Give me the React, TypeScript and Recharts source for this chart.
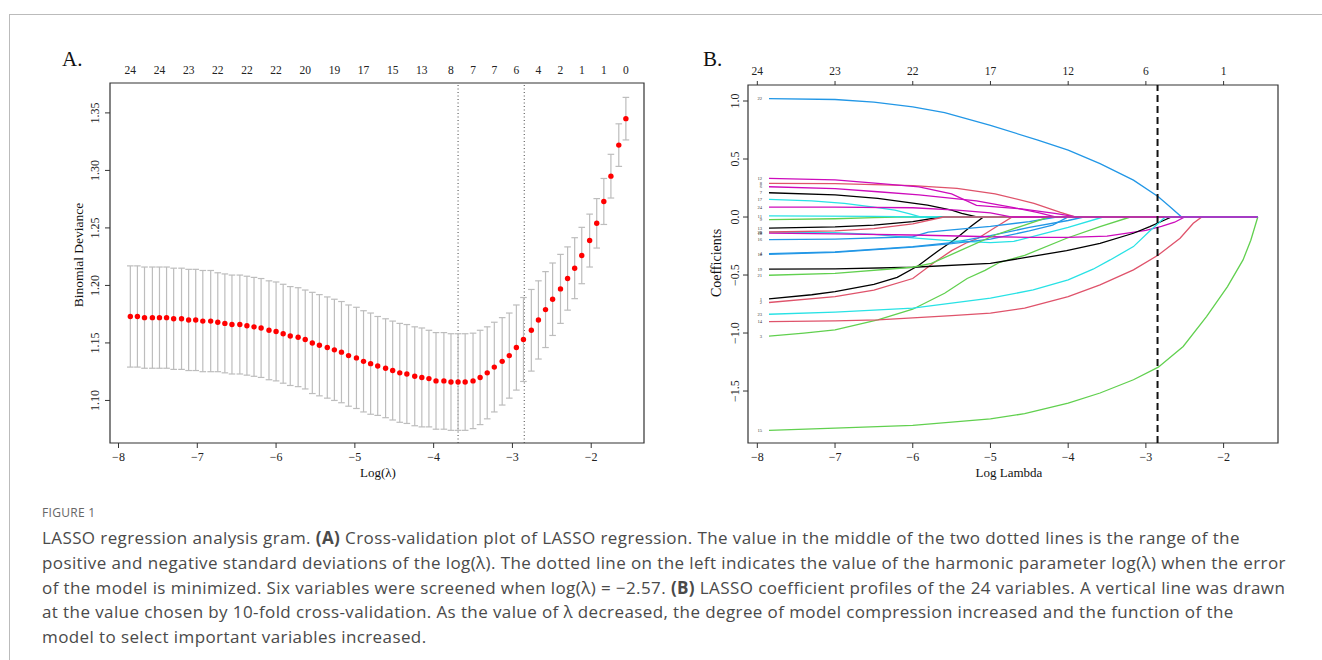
import React from 'react';
import {
  ComposedChart, Scatter, Line, XAxis, YAxis, ReferenceLine, ReferenceArea, ErrorBar,
} from 'recharts';

// ---- Panel A: cross-validation curve ----
const logLambda = [
  -7.85, -7.76, -7.67, -7.57, -7.48, -7.39, -7.30, -7.20, -7.11, -7.02,
  -6.93, -6.83, -6.74, -6.65, -6.56, -6.46, -6.37, -6.28, -6.19, -6.09,
  -6.00, -5.91, -5.82, -5.72, -5.63, -5.54, -5.45, -5.35, -5.26, -5.17,
  -5.08, -4.98, -4.89, -4.80, -4.71, -4.61, -4.52, -4.43, -4.34, -4.24,
  -4.15, -4.06, -3.97, -3.87, -3.78, -3.69, -3.60, -3.50, -3.41, -3.32,
  -3.23, -3.13, -3.04, -2.95, -2.86, -2.76, -2.67, -2.58, -2.49, -2.39,
  -2.30, -2.21, -2.12, -2.02, -1.93, -1.84, -1.75, -1.65, -1.56,
];
const cvMean = [
  1.173, 1.173, 1.172, 1.172, 1.172, 1.172, 1.171, 1.171, 1.170, 1.170,
  1.169, 1.169, 1.168, 1.167, 1.166, 1.166, 1.165, 1.164, 1.163, 1.161,
  1.160, 1.158, 1.156, 1.155, 1.153, 1.150, 1.148, 1.146, 1.144, 1.142,
  1.139, 1.137, 1.134, 1.132, 1.130, 1.128, 1.126, 1.124, 1.123, 1.121,
  1.120, 1.119, 1.117, 1.117, 1.116, 1.116, 1.116, 1.117, 1.120, 1.124,
  1.129, 1.134, 1.139, 1.146, 1.153, 1.161, 1.170, 1.179, 1.188, 1.197,
  1.206, 1.215, 1.226, 1.239, 1.254, 1.273, 1.295, 1.322, 1.345,
];
const cvSE = [
  0.044, 0.044, 0.044, 0.044, 0.044, 0.044, 0.044, 0.044, 0.044, 0.044,
  0.044, 0.044, 0.043, 0.043, 0.043, 0.043, 0.043, 0.043, 0.043, 0.043,
  0.043, 0.043, 0.043, 0.043, 0.043, 0.044, 0.044, 0.044, 0.044, 0.044,
  0.044, 0.044, 0.044, 0.044, 0.043, 0.043, 0.043, 0.043, 0.043, 0.043,
  0.043, 0.042, 0.042, 0.042, 0.042, 0.042, 0.042, 0.0415, 0.041, 0.040,
  0.039, 0.038, 0.037, 0.037, 0.0365, 0.0355, 0.034, 0.033, 0.0315, 0.030,
  0.0275, 0.0265, 0.0245, 0.023, 0.0215, 0.020, 0.019, 0.0185, 0.0185,
];
const lambdaMin = -3.69;
const lambda1se = -2.85;
const cvTopPos = [-7.85, -7.48, -7.11, -6.74, -6.37, -6.00, -5.63, -5.26, -4.89, -4.52,
  -4.15, -3.78, -3.50, -3.23, -2.95, -2.67, -2.39, -2.12, -1.84, -1.56];
const cvTopLabels = [24, 24, 23, 22, 22, 22, 20, 19, 17, 15, 13, 8, 7, 7, 6, 4, 2, 1, 1, 0];
const cvXTicks = [-8, -7, -6, -5, -4, -3, -2];
const cvYTicks = [1.10, 1.15, 1.20, 1.25, 1.30, 1.35];

// ---- Panel B: coefficient paths, variables 1..24 ----
const coef01 = [[-7.85, -0.706], [-7.3, -0.67], [-7, -0.643], [-6.5, -0.58], [-6.2, -0.52], [-5.93, -0.42], [-5.67, -0.29], [-5.45, -0.19], [-5.25, -0.08], [-5.09, 0], [-1.56, 0]];
const coef02 = [[-7.85, -0.737], [-7, -0.686], [-6.5, -0.63], [-6, -0.53], [-5.72, -0.39], [-5.5, -0.29], [-5.3, -0.22], [-5.16, -0.183], [-4.94, -0.09], [-4.72, 0], [-1.56, 0]];
const coef03 = [[-7.85, -1.027], [-7.4, -1.0], [-7, -0.972], [-6.45, -0.886], [-6, -0.795], [-5.59, -0.657], [-5.3, -0.53], [-5.07, -0.46], [-4.88, -0.39], [-4.56, -0.33], [-4.02, -0.183], [-3.59, -0.083], [-3.2, 0], [-1.56, 0]];
const coef04 = [[-7.85, -0.316], [-7, -0.30], [-6, -0.255], [-5.5, -0.22], [-5, -0.16], [-4.5, -0.09], [-4, -0.03], [-3.8, 0], [-1.56, 0]];
const coef05 = [[-7.85, -0.13], [-7, -0.135], [-6.5, -0.15], [-6, -0.18], [-5.5, -0.205], [-5, -0.22], [-4.7, -0.21], [-4.3, -0.14], [-4, -0.09], [-3.55, 0], [-1.56, 0]];
const coef06 = [[-7.85, 0.261], [-7, 0.245], [-6.45, 0.218], [-5.92, 0.19], [-5.18, 0.14], [-4.7, 0.08], [-4.4, 0.04], [-4.15, 0], [-1.56, 0]];
const coef07 = [[-7.85, 0.209], [-7, 0.19], [-6.45, 0.161], [-5.81, 0.103], [-5.5, 0.06], [-5.37, 0.032], [-5.16, 0], [-1.56, 0]];
const coef08 = [[-7.85, 0.29], [-7, 0.288], [-6, 0.27], [-5.43, 0.247], [-4.94, 0.20], [-4.44, 0.118], [-4.1, 0.04], [-3.9, 0], [-1.56, 0]];
const coef09 = [[-7.85, -0.023], [-7, -0.015], [-6.5, -0.005], [-6.2, 0], [-1.56, 0]];
const coef10 = [[-7.85, -0.322], [-7, -0.305], [-6, -0.26], [-5.5, -0.23], [-5, -0.19], [-4.5, -0.12], [-4.2, -0.07], [-4.0, 0], [-1.56, 0]];
const coef11 = [[-7.85, 0.009], [-6.5, 0.006], [-5.9, 0], [-1.56, 0]];
const coef12 = [[-7.85, 0.333], [-7, 0.32], [-6.45, 0.29], [-5.92, 0.26], [-5.5, 0.2], [-5.18, 0.10], [-4.6, 0.07], [-4.15, 0.03], [-3.88, 0], [-1.56, 0]];
const coef13 = [[-7.85, -0.095], [-7, -0.085], [-6.5, -0.07], [-6, -0.04], [-5.63, 0], [-1.56, 0]];
const coef14 = [[-7.85, -0.901], [-7, -0.895], [-6.45, -0.886], [-6, -0.87], [-5.5, -0.85], [-5, -0.829], [-4.56, -0.786], [-4, -0.686], [-3.59, -0.585], [-3.16, -0.456], [-2.84, -0.327], [-2.56, -0.183], [-2.39, -0.054], [-2.28, 0], [-1.56, 0]];
const coef15 = [[-7.85, -1.839], [-7, -1.82], [-6, -1.796], [-5, -1.74], [-4.56, -1.695], [-4, -1.604], [-3.59, -1.517], [-3.16, -1.403], [-2.84, -1.294], [-2.52, -1.116], [-2.22, -0.858], [-1.95, -0.6], [-1.75, -0.37], [-1.65, -0.2], [-1.56, 0]];
const coef16 = [[-7.85, -0.195], [-7, -0.19], [-6, -0.17], [-5.8, -0.13], [-5.5, -0.11], [-5, -0.08], [-4.5, -0.04], [-4.15, 0], [-1.56, 0]];
const coef17 = [[-7.85, 0.152], [-7.3, 0.14], [-6.88, 0.118], [-6.5, 0.085], [-6.23, 0.06], [-6.05, 0.03], [-5.89, 0], [-1.56, 0]];
const coef18 = [[-7.85, -0.138], [-7, -0.145], [-6, -0.155], [-5, -0.17], [-4.5, -0.175], [-4, -0.175], [-3.5, -0.165], [-3.0, -0.115], [-2.8, -0.08], [-2.63, -0.045], [-2.5, 0], [-1.56, 0]];
const coef19 = [[-7.85, -0.45], [-7, -0.447], [-6, -0.433], [-5, -0.399], [-4.56, -0.35], [-4.02, -0.29], [-3.59, -0.227], [-3.16, -0.14], [-2.95, -0.083], [-2.78, -0.032], [-2.67, 0], [-1.56, 0]];
const coef20 = [[-7.85, -0.129], [-7, -0.12], [-6.5, -0.1], [-6, -0.06], [-5.6, 0], [-1.56, 0]];
const coef21 = [[-7.85, -0.502], [-7, -0.485], [-6, -0.433], [-5.76, -0.4], [-5.37, -0.284], [-4.94, -0.155], [-4.56, -0.069], [-4.25, 0], [-1.56, 0]];
const coef22 = [[-7.85, 1.021], [-7, 1.013], [-6.5, 0.99], [-6, 0.949], [-5.59, 0.9], [-5, 0.79], [-4.39, 0.663], [-4, 0.577], [-3.59, 0.46], [-3.16, 0.318], [-2.84, 0.175], [-2.69, 0.089], [-2.54, 0], [-1.56, 0]];
const coef23 = [[-7.85, -0.838], [-7, -0.82], [-6, -0.786], [-5, -0.70], [-4.45, -0.628], [-4, -0.542], [-3.68, -0.45], [-3.46, -0.37], [-3.16, -0.255], [-2.95, -0.12], [-2.75, 0], [-1.56, 0]];
const coef24 = [[-7.85, 0.086], [-7, 0.085], [-6, 0.08], [-5.43, 0.06], [-5, 0.035], [-4.72, 0], [-1.56, 0]];

const coefPaths = [
  coef01, coef02, coef03, coef04, coef05, coef06, coef07, coef08, coef09, coef10, coef11, coef12,
  coef13, coef14, coef15, coef16, coef17, coef18, coef19, coef20, coef21, coef22, coef23, coef24,
];
const coefXTicks = [-8, -7, -6, -5, -4, -3, -2];
const coefTopLabels = [24, 23, 22, 17, 12, 6, 1];
const coefYTicks = [-1.5, -1.0, -0.5, 0, 0.5, 1.0];

// R default matplot colours (col = 1:6)
const palette = ['#000000', '#DF536B', '#61D04F', '#2297E6', '#28E2E5', '#CD0BBC'];

const serif = '"Liberation Serif", "Times New Roman", serif';
const minus = (s: string) => s.replace('-', '\u2212');

const cvData = logLambda.map((x, i) => ({ x, y: cvMean[i], se: cvSE[i] }));
const pathData = coefPaths.map((p) => p.map(([x, y]) => ({ x, y })));
const startLabels = coefPaths.map((p, i) => ({ x: p[0][0], y: p[0][1], name: String(i + 1) }));

const RotTick = (props: any) => {
  const { x, y, payload, digits } = props;
  return (
    <text x={x} y={y} transform={`rotate(-90 ${x} ${y})`} textAnchor="middle"
      fontSize={12} fontFamily={serif} fill="#222">
      {minus(Number(payload.value).toFixed(digits))}
    </text>
  );
};

const tickStyle = { fontSize: 12, fill: '#222', fontFamily: serif };
const Empty = () => <g />;

const CVPlot = () => {
  const xd: [number, number] = [-8.108, -1.33];
  const yd: [number, number] = [1.063, 1.376];
  return (
    <ComposedChart width={660} height={490} margin={{ top: 0, right: 16, bottom: 0, left: 0 }}>
      <XAxis xAxisId="top" orientation="top" type="number" dataKey="x" domain={xd} ticks={cvTopPos}
        interval={0} height={83} axisLine={false} tickLine={false} tickSize={0} tickMargin={9}
        allowDataOverflow tick={{ ...tickStyle, fontSize: 11.5 }}
        tickFormatter={(v: number) => String(cvTopLabels[cvTopPos.indexOf(v)])} />
      <XAxis type="number" dataKey="x" domain={xd} ticks={cvXTicks} interval={0} height={47}
        allowDataOverflow axisLine={false} tickSize={5} tickMargin={4} tickLine={{ stroke: '#333' }} tick={tickStyle}
        tickFormatter={(v: number) => minus(String(v))} />
      <YAxis type="number" dataKey="y" domain={yd} ticks={cvYTicks} interval={0} width={110}
        allowDataOverflow axisLine={false} tickSize={5} tickMargin={6} tickLine={{ stroke: '#333' }}
        tick={(p: any) => <RotTick {...p} digits={2} />} />
      <ReferenceArea x1={xd[0]} x2={xd[1]} y1={yd[0]} y2={yd[1]} fill="none" fillOpacity={0}
        stroke="#333" strokeWidth={1.2} />
      <ReferenceLine x={lambdaMin} stroke="#444" strokeDasharray="1 2.5" strokeWidth={1} />
      <ReferenceLine x={lambda1se} stroke="#444" strokeDasharray="1 2.5" strokeWidth={1} />
      {/* invisible series so the top axis gets its ticks */}
      <Scatter xAxisId="top" data={cvData} dataKey="y" isAnimationActive={false} shape={<Empty />} />
      <Scatter data={cvData} dataKey="y" isAnimationActive={false}
        shape={(p: any) => <circle cx={p.cx} cy={p.cy} r={2.7} fill="#FF0000" />}>
        <ErrorBar dataKey="se" direction="y" width={3.3} stroke="#BDBDBD" strokeWidth={1.2} />
      </Scatter>
    </ComposedChart>
  );
};

const CoefPlot = () => {
  const xd: [number, number] = [-8.12, -1.30];
  const yd: [number, number] = [-1.948, 1.138];
  return (
    <ComposedChart width={660} height={490} margin={{ top: 0, right: 22, bottom: 0, left: 0 }}>
      <XAxis xAxisId="top" orientation="top" type="number" dataKey="x" domain={xd} ticks={coefXTicks}
        allowDataOverflow interval={0} height={85} axisLine={false} tickSize={4} tickMargin={6}
        tickLine={{ stroke: '#333' }} tick={{ ...tickStyle, fontSize: 11.5 }}
        tickFormatter={(v: number) => String(coefTopLabels[coefXTicks.indexOf(v)])} />
      <XAxis type="number" dataKey="x" domain={xd} ticks={coefXTicks} interval={0} height={47}
        allowDataOverflow axisLine={false} tickSize={5} tickMargin={4} tickLine={{ stroke: '#333' }} tick={tickStyle}
        tickFormatter={(v: number) => minus(String(v))} />
      <YAxis type="number" dataKey="y" domain={yd} ticks={coefYTicks} interval={0} width={108}
        allowDataOverflow axisLine={false} tickSize={5} tickMargin={4} tickLine={{ stroke: '#333' }}
        tick={(p: any) => <RotTick {...p} digits={1} />} />
      <ReferenceArea x1={xd[0]} x2={xd[1]} y1={yd[0]} y2={yd[1]} fill="none" fillOpacity={0}
        stroke="#333" strokeWidth={1.2} />
      {pathData.map((d, i) => (
        <Line key={i} data={d} dataKey="y" type="linear" dot={false} activeDot={false}
          stroke={palette[i % 6]} strokeWidth={1.3} isAnimationActive={false} />
      ))}
      <ReferenceLine x={lambda1se} stroke="#111" strokeDasharray="7 4" strokeWidth={2} />
      <Scatter xAxisId="top" data={startLabels} dataKey="y" isAnimationActive={false} shape={<Empty />} />
      <Scatter data={startLabels} dataKey="y" isAnimationActive={false}
        shape={(p: any) => (
          <text x={p.cx - 7} y={p.cy + 1.6} textAnchor="end" fontSize={4.6} fontFamily={serif} fill="#333">
            {p.payload.name}
          </text>
        )} />
    </ComposedChart>
  );
};

const abs = (left: number, top: number): React.CSSProperties => ({ position: 'absolute', left, top });

export default function App() {
  const title: React.CSSProperties = { fontFamily: serif, fontSize: 13, color: '#111', whiteSpace: 'nowrap' };
  const captionLine: React.CSSProperties = { whiteSpace: 'nowrap', height: 24.75, lineHeight: '24.75px' };
  const sans = '"Open Sans", "Noto Sans", sans-serif';
  return (
    <div style={{ position: 'absolute', left: 0, top: 0, width: 1322, height: 660, background: '#fff', overflow: 'hidden' }}>
      <div style={{ position: 'absolute', left: 9, top: 14, width: 1313, height: 646, borderTop: '1.5px solid #bbb', borderLeft: '1.5px solid #bbb' }} />

      <div style={abs(0, 0)}><CVPlot /></div>
      <div style={abs(640, 0)}><CoefPlot /></div>

      <div style={{ ...abs(62, 47), fontFamily: serif, fontSize: 21, color: '#111' }}>A.</div>
      <div style={{ ...abs(703, 47), fontFamily: serif, fontSize: 21, color: '#111' }}>B.</div>

      <div style={{ ...abs(79, 255), ...title, fontSize: 13.5, transform: 'translate(-50%, -50%) rotate(-90deg)' }}>Binomial Deviance</div>
      <div style={{ ...abs(378, 473), ...title, transform: 'translate(-50%, -50%)' }}>Log(λ)</div>
      <div style={{ ...abs(717, 263), ...title, fontSize: 14, transform: 'translate(-50%, -50%) rotate(-90deg)' }}>Coefficients</div>
      <div style={{ ...abs(1009, 473), ...title, transform: 'translate(-50%, -50%)' }}>Log Lambda</div>

      <div style={{ ...abs(42, 504), fontFamily: sans, fontSize: 12, color: '#666', letterSpacing: 0.3 }}>FIGURE 1</div>
      <div style={{ ...abs(42, 526), fontFamily: sans, fontSize: 17, letterSpacing: 0.4, color: '#4a4a4a' }}>
        <div style={captionLine}>LASSO regression analysis gram. <b>(A)</b> Cross-validation plot of LASSO regression. The value in the middle of the two dotted lines is the range of the</div>
        <div style={captionLine}>positive and negative standard deviations of the log(λ). The dotted line on the left indicates the value of the harmonic parameter log(λ) when the error</div>
        <div style={captionLine}>of the model is minimized. Six variables were screened when log(λ) = −2.57. <b>(B)</b> LASSO coefficient profiles of the 24 variables. A vertical line was drawn</div>
        <div style={captionLine}>at the value chosen by 10-fold cross-validation. As the value of λ decreased, the degree of model compression increased and the function of the</div>
        <div style={captionLine}>model to select important variables increased.</div>
      </div>
    </div>
  );
}
